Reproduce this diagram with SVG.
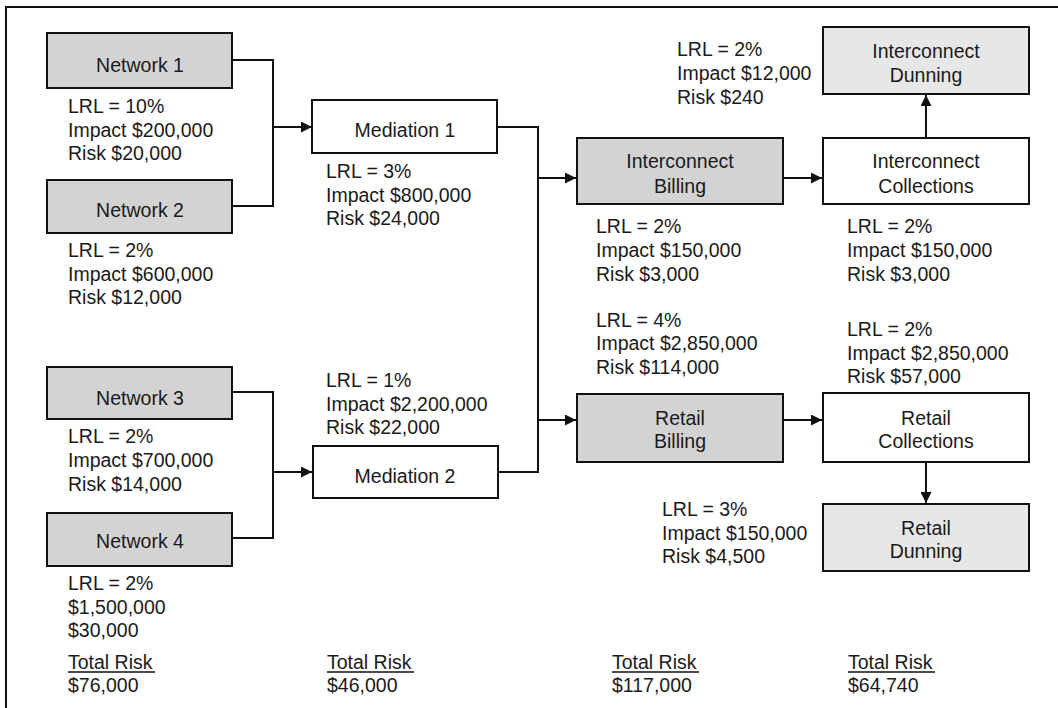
<svg xmlns="http://www.w3.org/2000/svg" width="1058" height="708" viewBox="0 0 1058 708">
  <style>
    .box { stroke: #111; stroke-width: 2; fill: #fff; }
    .shade { fill: #d3d3d3; }
    .light { fill: #e7e7e7; }
    .name { font-family: "Liberation Sans", Arial, sans-serif; font-size: 19.5px; fill: #1a1a1a; text-anchor: middle; }
    .info { font-family: "Liberation Sans", Arial, sans-serif; font-size: 19.5px; fill: #1a1a1a; }
    .wire { fill: none; stroke: #111; stroke-width: 2; }
    .rule { stroke: #111; stroke-width: 1.4; }
  </style>
  <defs>
    <marker id="arrow" viewBox="0 0 10 10" refX="10" refY="5" markerWidth="11" markerHeight="11" markerUnits="userSpaceOnUse" orient="auto">
      <path d="M0,0 L10,5 L0,10 z" fill="#111"/>
    </marker>
  </defs>

  <rect width="1058" height="708" fill="#fff"/>
  <!-- outer frame -->
  <rect x="6" y="7" width="1070" height="720" fill="none" stroke="#111" stroke-width="2"/>

  <!-- connectors -->
  <g id="connectors">
    <path class="wire" d="M232,60 H273 V206 H232"/>
    <path class="wire" d="M273,127 H312" marker-end="url(#arrow)"/>
    <path class="wire" d="M232,392 H273 V538 H232"/>
    <path class="wire" d="M273,472 H312" marker-end="url(#arrow)"/>
    <path class="wire" d="M497,127 H538 V472 H498"/>
    <path class="wire" d="M538,178 H576" marker-end="url(#arrow)"/>
    <path class="wire" d="M538,420 H576" marker-end="url(#arrow)"/>
    <path class="wire" d="M783,178 H822" marker-end="url(#arrow)"/>
    <path class="wire" d="M783,420 H822" marker-end="url(#arrow)"/>
    <path class="wire" d="M926,138 V95" marker-end="url(#arrow)"/>
    <path class="wire" d="M926,462 V503" marker-end="url(#arrow)"/>
  </g>

  <!-- network sources -->
  <g id="network1">
    <rect class="box shade" x="47" y="33" width="185" height="55"/>
    <text class="name" x="140" y="72">Network 1</text>
    <text class="info" x="68" y="113">LRL = 10%</text>
    <text class="info" x="68" y="137">Impact $200,000</text>
    <text class="info" x="68" y="160">Risk $20,000</text>
  </g>
  <g id="network2">
    <rect class="box shade" x="47" y="180" width="185" height="53"/>
    <text class="name" x="140" y="217">Network 2</text>
    <text class="info" x="68" y="257">LRL = 2%</text>
    <text class="info" x="68" y="281">Impact $600,000</text>
    <text class="info" x="68" y="304">Risk $12,000</text>
  </g>
  <g id="network3">
    <rect class="box shade" x="47" y="367" width="185" height="52"/>
    <text class="name" x="140" y="405">Network 3</text>
    <text class="info" x="68" y="443">LRL = 2%</text>
    <text class="info" x="68" y="467">Impact $700,000</text>
    <text class="info" x="68" y="491">Risk $14,000</text>
  </g>
  <g id="network4">
    <rect class="box shade" x="47" y="513" width="185" height="53"/>
    <text class="name" x="140" y="548">Network 4</text>
    <text class="info" x="68" y="590">LRL = 2%</text>
    <text class="info" x="68" y="614">$1,500,000</text>
    <text class="info" x="68" y="637">$30,000</text>
  </g>

  <!-- mediation -->
  <g id="mediation1">
    <rect class="box" x="312" y="100" width="185" height="53"/>
    <text class="name" x="405" y="137">Mediation 1</text>
    <text class="info" x="326" y="178">LRL = 3%</text>
    <text class="info" x="326" y="202">Impact $800,000</text>
    <text class="info" x="326" y="225">Risk $24,000</text>
  </g>
  <g id="mediation2">
    <rect class="box" x="313" y="446" width="185" height="52"/>
    <text class="name" x="405" y="483">Mediation 2</text>
    <text class="info" x="326" y="387">LRL = 1%</text>
    <text class="info" x="326" y="411">Impact $2,200,000</text>
    <text class="info" x="326" y="434">Risk $22,000</text>
  </g>

  <!-- billing -->
  <g id="interconnect-billing">
    <rect class="box shade" x="577" y="138" width="206" height="66"/>
    <text class="name" x="680" y="168">Interconnect</text>
    <text class="name" x="680" y="193">Billing</text>
    <text class="info" x="596" y="233">LRL = 2%</text>
    <text class="info" x="596" y="257">Impact $150,000</text>
    <text class="info" x="596" y="281">Risk $3,000</text>
  </g>
  <g id="retail-billing">
    <rect class="box shade" x="577" y="394" width="206" height="68"/>
    <text class="name" x="680" y="425">Retail</text>
    <text class="name" x="680" y="448">Billing</text>
    <text class="info" x="596" y="327">LRL = 4%</text>
    <text class="info" x="596" y="350">Impact $2,850,000</text>
    <text class="info" x="596" y="374">Risk $114,000</text>
  </g>

  <!-- collections -->
  <g id="interconnect-collections">
    <rect class="box" x="823" y="138" width="206" height="66"/>
    <text class="name" x="926" y="168">Interconnect</text>
    <text class="name" x="926" y="193">Collections</text>
    <text class="info" x="847" y="233">LRL = 2%</text>
    <text class="info" x="847" y="257">Impact $150,000</text>
    <text class="info" x="847" y="281">Risk $3,000</text>
  </g>
  <g id="retail-collections">
    <rect class="box" x="823" y="393" width="206" height="69"/>
    <text class="name" x="926" y="425">Retail</text>
    <text class="name" x="926" y="448">Collections</text>
    <text class="info" x="847" y="336">LRL = 2%</text>
    <text class="info" x="847" y="360">Impact $2,850,000</text>
    <text class="info" x="847" y="383">Risk $57,000</text>
  </g>

  <!-- dunning -->
  <g id="interconnect-dunning">
    <rect class="box light" x="823" y="27" width="206" height="67"/>
    <text class="name" x="926" y="58">Interconnect</text>
    <text class="name" x="926" y="82">Dunning</text>
    <text class="info" x="677" y="56">LRL = 2%</text>
    <text class="info" x="677" y="80">Impact $12,000</text>
    <text class="info" x="677" y="104">Risk $240</text>
  </g>
  <g id="retail-dunning">
    <rect class="box light" x="823" y="504" width="206" height="67"/>
    <text class="name" x="926" y="535">Retail</text>
    <text class="name" x="926" y="558">Dunning</text>
    <text class="info" x="662" y="516">LRL = 3%</text>
    <text class="info" x="662" y="540">Impact $150,000</text>
    <text class="info" x="662" y="563">Risk $4,500</text>
  </g>

  <!-- column totals -->
  <g id="totals">
    <text class="info" x="68" y="669">Total Risk</text>
    <line class="rule" x1="68" y1="672" x2="155" y2="672"/>
    <text class="info" x="68" y="692">$76,000</text>
    <text class="info" x="327" y="669">Total Risk</text>
    <line class="rule" x1="327" y1="672" x2="414" y2="672"/>
    <text class="info" x="327" y="692">$46,000</text>
    <text class="info" x="612" y="669">Total Risk</text>
    <line class="rule" x1="612" y1="672" x2="699" y2="672"/>
    <text class="info" x="612" y="692">$117,000</text>
    <text class="info" x="848" y="669">Total Risk</text>
    <line class="rule" x1="848" y1="672" x2="935" y2="672"/>
    <text class="info" x="848" y="692">$64,740</text>
  </g>
</svg>
